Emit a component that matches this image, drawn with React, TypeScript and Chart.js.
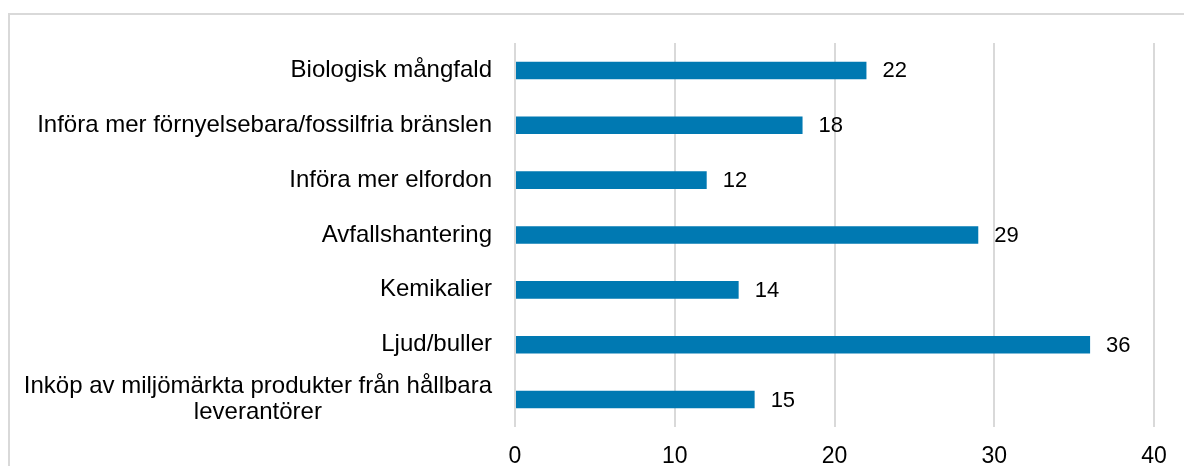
import React, { useEffect, useRef } from "react";
import { Chart, registerables } from "chart.js";

Chart.register(...registerables);

const categories: (string | string[])[] = [
  "Biologisk mångfald",
  "Införa mer förnyelsebara/fossilfria bränslen",
  "Införa mer elfordon",
  "Avfallshantering",
  "Kemikalier",
  "Ljud/buller",
  ["Inköp av miljömärkta produkter från hållbara", "leverantörer"],
];
const values = [22, 18, 12, 29, 14, 36, 15];
const xMin = 0;
const xMax = 40;
const xStep = 10;

const FONT = "'Liberation Sans', Arial, sans-serif";

const categoryLabelPlugin = {
  id: "categoryLabels",
  afterDraw(chart: any) {
    const ctx = chart.ctx;
    const yScale = chart.scales.y;
    ctx.save();
    ctx.font = `24px ${FONT}`;
    ctx.fillStyle = "#000";
    ctx.textBaseline = "middle";
    ctx.textAlign = "center";
    const lineH = 25.5;
    const rightEdge = yScale.right - 23;
    categories.forEach((lab, i) => {
      const lines = Array.isArray(lab) ? lab : [lab];
      const w = Math.max(...lines.map((l) => ctx.measureText(l).width));
      const cx = rightEdge - w / 2;
      const py = yScale.getPixelForValue(i);
      lines.forEach((l, k) => {
        ctx.fillText(l, cx, py + (k - (lines.length - 1) / 2) * lineH);
      });
    });
    ctx.restore();
  },
};

const valueLabelPlugin = {
  id: "valueLabels",
  afterDatasetsDraw(chart: any) {
    const ctx = chart.ctx;
    const meta = chart.getDatasetMeta(0);
    ctx.save();
    ctx.font = `22px ${FONT}`;
    ctx.fillStyle = "#000";
    ctx.textBaseline = "middle";
    ctx.textAlign = "left";
    meta.data.forEach((el: any, i: number) => {
      ctx.fillText(String(values[i]), el.x + 16, el.y + 1);
    });
    ctx.restore();
  },
};

export default function App() {
  const ref = useRef<HTMLCanvasElement>(null);
  useEffect(() => {
    if (!ref.current) return;
    const chart = new Chart(ref.current, {
      type: "bar",
      data: {
        labels: categories.map((c) => (Array.isArray(c) ? c.join(" ") : c)),
        datasets: [
          {
            data: values,
            backgroundColor: "#0079B2",
            borderWidth: 0,
            categoryPercentage: 1,
            barPercentage: 0.32,
          },
        ],
      },
      options: {
        indexAxis: "y",
        animation: false,
        responsive: true,
        maintainAspectRatio: false,
        layout: { padding: { top: 43, right: 30, left: 0, bottom: 0 } },
        plugins: {
          legend: { display: false },
          tooltip: { enabled: false },
          title: { display: false },
        },
        scales: {
          x: {
            min: xMin,
            max: xMax,
            ticks: {
              stepSize: xStep,
              color: "#000",
              font: { family: FONT, size: 23 },
              padding: 16,
            },
            grid: { color: "#d9d9d9", lineWidth: 2, drawTicks: false },
            border: { display: false },
            afterFit: (s: any) => {
              s.height = 39;
            },
          },
          y: {
            ticks: { display: false },
            grid: { display: false },
            border: { display: false },
            afterFit: (s: any) => {
              s.width = 515;
            },
          },
        },
      },
      plugins: [categoryLabelPlugin, valueLabelPlugin],
    });
    return () => chart.destroy();
  }, []);

  return (
    <div
      style={{
        position: "fixed",
        left: 0,
        top: 0,
        width: 1184,
        height: 466,
        overflow: "hidden",
        background: "#fff",
      }}
    >
      <div
        style={{
          position: "absolute",
          left: 8,
          top: 13,
          width: 1200,
          height: 500,
          borderTop: "2px solid #d9d9d9",
          borderLeft: "2px solid #d9d9d9",
        }}
      />
      <canvas ref={ref} style={{ position: "absolute", left: 0, top: 0, width: 1184, height: 466 }} />
    </div>
  );
}
